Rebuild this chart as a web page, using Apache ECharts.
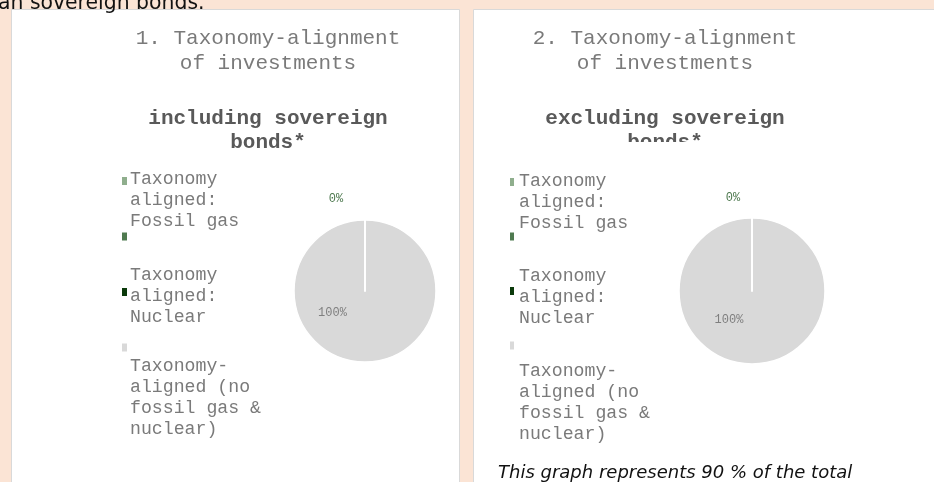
<!DOCTYPE html>
<html>
<head>
<meta charset="utf-8">
<title>Taxonomy-alignment of investments</title>
<script src="https://cdn.jsdelivr.net/npm/echarts@6/dist/echarts.min.js"></script>
<style>
    html, body { margin: 0; padding: 0; background: #fbe4d5; }
    #taxonomyChart { width: 934px; height: 482px; }
</style>
</head>
<body>
<div id="taxonomyChart"></div>
<script>
// 数据
var categories = ['Taxonomy-aligned: Fossil gas', 'Taxonomy-aligned: Nuclear', 'Taxonomy-aligned (no fossil gas & nuclear)', 'Non Taxonomy-aligned'];
var inclSovereign = [0, 0, 0, 100];
var exclSovereign = [0, 0, 0, 100];
var sliceColors = ['#8fae8d', '#4f7a50', '#0b3a0b', '#d9d9d9'];
var legendTexts = ['Taxonomy\naligned:\nFossil gas', 'Taxonomy\naligned:\nNuclear', 'Taxonomy-\naligned (no\nfossil gas &\nnuclear)'];
var chartTitles = ['1. Taxonomy-alignment\nof investments', '2. Taxonomy-alignment\nof investments'];
var chartSubtitles = ['including sovereign\nbonds*', 'excluding sovereign\nbonds*'];
var headText = 'an sovereign bonds.';
var footText = 'This graph represents 90 % of the total';

var mono = '"Liberation Mono", "Courier New", monospace';
var sans = '"DejaVu Sans", Tahoma, sans-serif';
var labelColors = [null, '#4f7a50', null, '#7f7f7f'];
// draw the big slice first so the white edges of the empty ones stay visible
var drawOrder = [3, 0, 1, 2];

function pieData(values) {
    return drawOrder.map(function (i) {
        return {
            value: values[i],
            name: categories[i],
            itemStyle: { color: sliceColors[i] },
            label: {
                show: labelColors[i] !== null,
                color: labelColors[i] || '#7f7f7f'
            }
        };
    });
}

function pieSeries(values, center, radius, offsets) {
    return {
        type: 'pie',
        center: center,
        radius: radius,
        startAngle: 90,
        clockwise: true,
        avoidLabelOverlap: false,
        data: pieData(values),
        itemStyle: {
            borderColor: '#ffffff',
            borderWidth: 1.5
        },
        label: {
            position: 'inside',
            formatter: '{d}%',
            fontFamily: mono,
            fontSize: 12
        },
        labelLine: { show: false },
        labelLayout: function (params) {
            var off = offsets[drawOrder[params.dataIndex]] || [0, 0];
            return {
                x: center[0] + off[0],
                y: center[1] + off[1],
                align: 'center',
                verticalAlign: 'middle'
            };
        },
        emphasis: { scale: false }
    };
}

function legendBox(left, top, gap, width) {
    return {
        orient: 'vertical',
        left: left,
        top: top,
        padding: 0,
        itemGap: gap,
        itemWidth: width,
        itemHeight: 8,
        icon: 'rect',
        itemStyle: { borderWidth: 0 },
        data: categories,
        formatter: function () { return ''; }
    };
}

function legendLabels(x, tops) {
    return legendTexts.map(function (t, i) {
        return {
            type: 'text',
            x: x,
            y: tops[i],
            z: 5,
            style: {
                text: t,
                font: '18.2px ' + mono,
                lineHeight: 21,
                fill: '#7a7a7a',
                verticalAlign: 'top'
            }
        };
    });
}

function titleBox(text, left, top, bold) {
    return {
        text: text,
        left: left,
        top: top,
        textAlign: 'center',
        padding: 0,
        textStyle: {
            fontFamily: mono,
            fontSize: 21,
            fontWeight: bold ? 'bold' : 'normal',
            color: bold ? '#595959' : '#7a7a7a',
            lineHeight: bold ? 23.5 : 25
        }
    };
}

function Taxonomy() {
    var graphics = [
        { type: 'rect', z: 0, shape: { x: 11.5, y: 9.5, width: 448, height: 490 },
          style: { fill: '#ffffff', stroke: '#d9d9d9', lineWidth: 1 } },
        { type: 'rect', z: 0, shape: { x: 473.5, y: 9.5, width: 470, height: 490 },
          style: { fill: '#ffffff', stroke: '#d9d9d9', lineWidth: 1 } },
        // panel 2 subtitle is cut off in the original box
        { type: 'rect', z: 20, shape: { x: 475, y: 142, width: 440, height: 20 },
          style: { fill: '#ffffff' } },
        { type: 'text', x: -2, y: 3.5, z: 5,
          style: { text: headText, font: '20.4px ' + sans, fill: '#111111', verticalAlign: 'middle' } },
        { type: 'text', x: 498, y: 473, z: 5,
          style: { text: footText, font: 'italic 18px ' + sans, fill: '#111111', verticalAlign: 'middle' } }
    ];
    graphics = graphics.concat(legendLabels(130, [169, 265, 356]));
    graphics = graphics.concat(legendLabels(519, [171, 266, 361]));

    var option = {
        backgroundColor: '#fbe4d5',
        animation: false,
        color: sliceColors,
        title: [
            titleBox(chartTitles[0], 268, 26, false),
            titleBox(chartSubtitles[0], 268, 107, true),
            titleBox(chartTitles[1], 665, 26, false),
            titleBox(chartSubtitles[1], 665, 107, true)
        ],
        legend: [
            legendBox(122, 177, 47.5, 5),
            legendBox(510, 178, 46.5, 4)
        ],
        graphic: graphics,
        series: [
            pieSeries(inclSovereign, [365, 291], 71, [null, [-29, -92.5], null, [-32.5, 21.5]]),
            pieSeries(exclSovereign, [752, 291], 73, [null, [-19, -93], null, [-23, 29]])
        ]
    };
    var myChart = echarts.init(document.querySelector('#taxonomyChart'));
    myChart.setOption(option);
}

Taxonomy();
</script>
</body>
</html>
